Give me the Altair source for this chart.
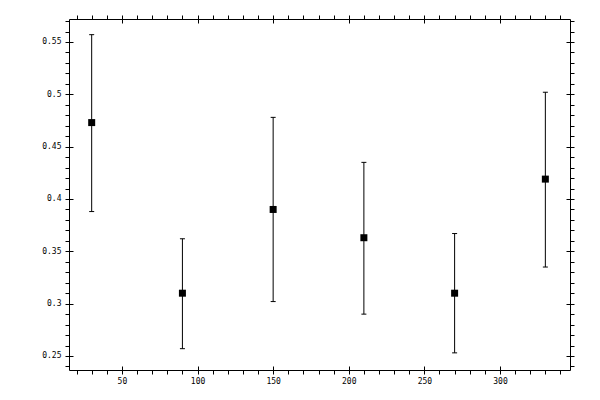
import altair as alt
import pandas as pd

# data
x_vals = [30, 90, 150, 210, 270, 330]
y_vals = [0.473, 0.310, 0.390, 0.363, 0.310, 0.419]
y_low = [0.388, 0.257, 0.302, 0.290, 0.253, 0.335]
y_high = [0.557, 0.362, 0.478, 0.435, 0.367, 0.502]

x_ticks = list(range(20, 341, 10))
x_major = [50, 100, 150, 200, 250, 300]
y_ticks = [round(0.24 + 0.01 * i, 2) for i in range(34)]
y_major = [0.25, 0.3, 0.35, 0.4, 0.45, 0.5, 0.55]

df = pd.DataFrame({"x": x_vals, "y": y_vals, "lo": y_low, "hi": y_high})

W, H = 501, 351
xs = alt.Scale(domain=[15, 346.3], nice=False, zero=False)
ys = alt.Scale(domain=[0.23662, 0.57197], nice=False, zero=False)

FONT = "DejaVu Sans Mono"
common = dict(grid=False, domainColor="black", tickColor="black", domainWidth=1,
              tickWidth=1, tickSize=4, title=None, labelFlush=False,
              labelOverlap=False)

x_bottom = alt.Axis(orient="bottom", values=x_ticks, format="d",
                    labelExpr="datum.value % 50 == 0 ? datum.label : ''",
                    labelFont=FONT, labelFontSize=8, labelColor="black",
                    labelPadding=3, **common)
y_left = alt.Axis(orient="left", values=y_ticks, format="~g",
                  labelExpr="abs(datum.value*20 - round(datum.value*20)) < 0.001 ? datum.label : ''",
                  labelFont=FONT, labelFontSize=8, labelColor="black",
                  labelPadding=4, **common)
x_top = alt.Axis(orient="top", values=x_ticks, labels=False, **common)
y_right = alt.Axis(orient="right", values=y_ticks, labels=False, **common)

inner = dict(grid=False, domain=False, labels=False, tickColor="black",
             tickWidth=1, tickSize=4, title=None, offset=-4)
x_bottom_in = alt.Axis(orient="bottom", values=x_major, **inner)
y_left_in = alt.Axis(orient="left", values=y_major, **inner)
x_top_in = alt.Axis(orient="top", values=x_major, **inner)
y_right_in = alt.Axis(orient="right", values=y_major, **inner)

base = alt.Chart(df)

bars = base.mark_rule(color="black", strokeWidth=1).encode(
    x=alt.X("x:Q", scale=xs, axis=x_bottom),
    y=alt.Y("lo:Q", scale=ys, axis=y_left),
    y2="hi:Q",
)
cap_hi = base.mark_tick(orient="horizontal", size=5, thickness=1, color="black", opacity=1).encode(
    x=alt.X("x:Q", scale=xs, axis=x_top),
    y=alt.Y("hi:Q", scale=ys, axis=y_right),
)
cap_lo = base.mark_tick(orient="horizontal", size=5, thickness=1, color="black", opacity=1).encode(
    x=alt.X("x:Q", scale=xs, axis=x_bottom_in),
    y=alt.Y("lo:Q", scale=ys, axis=y_left_in),
)
points = base.mark_square(size=49, color="black", filled=True, opacity=1).encode(
    x=alt.X("x:Q", scale=xs, axis=x_top_in),
    y=alt.Y("y:Q", scale=ys, axis=y_right_in),
)

chart = alt.layer(bars, cap_hi, cap_lo, points).resolve_axis(
    x="independent", y="independent"
).properties(
    width=W, height=H,
    autosize=alt.AutoSizeParams(type="none"),
    padding={"left": 61, "top": 11, "right": 20, "bottom": 20},
    background="white",
).configure_view(stroke=None)

chart.save("out.html", embed_options={"renderer": "svg", "actions": False})
